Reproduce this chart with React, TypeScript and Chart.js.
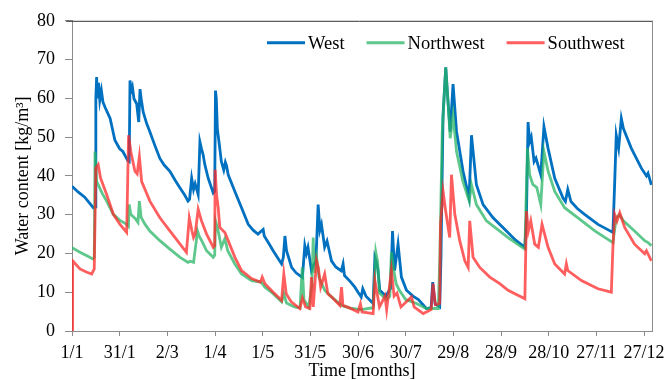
import React, { useEffect, useRef } from "react";
import { Chart, registerables } from "chart.js";

Chart.register(...registerables);

const xTickLabels = ["1/1", "31/1", "2/3", "1/4", "1/5", "31/5", "30/6", "30/7", "29/8", "28/9", "28/10", "27/11", "27/12"];
const tickStepDays = 30;

const westDays = [0, 4, 8, 13.4, 14.5, 15, 15.5, 16, 16.7, 17.5, 18.5, 19.5, 21, 24, 27, 30, 32, 35, 36, 36.5, 37.2, 38, 39, 40.7, 42, 42.8, 43.5, 44.8, 47, 49, 52, 55.3, 58, 61.6, 65, 68, 71, 73, 74, 75.3, 76.5, 77.5, 79.4, 80.5, 81.5, 82.5, 83.6, 85.7, 88.9, 89.8, 90.3, 90.8, 91.5, 93, 94, 95.5, 96.5, 97.3, 98.3, 102.5, 106.7, 110.9, 114, 117, 120.3, 121, 124, 126.6, 130, 131.9, 133, 134, 135, 138.2, 141, 143.4, 145, 146.5, 147.5, 148.5, 150.7, 152, 153.5, 154.9, 156, 157, 159, 160.5, 163.3, 166, 169.5, 170.6, 171.5, 175, 178, 180, 182, 183, 185, 189.5, 190.6, 191.5, 192.5, 193.7, 197.5, 200.5, 201.7, 203, 205.2, 207.3, 210.5, 214.6, 218, 223, 226, 227, 228.5, 231.4, 232.2, 233.5, 235.2, 236.5, 238, 239.8, 242, 246.1, 249.9, 251.4, 254.5, 258.7, 265, 273.4, 279, 285, 286, 287, 288, 289, 290.8, 292, 295, 297, 299.6, 303.8, 309, 310.5, 312, 314, 318, 322.6, 331, 336, 340.4, 341.5, 342.5, 344, 345.7, 347, 352, 358.3, 361.5, 362.5, 364.6];
const westValues = [37.3, 35.8, 34.5, 31.8, 32, 60, 65.5, 60, 64, 59.5, 62, 59, 57.5, 54.8, 49.2, 47, 46.3, 44, 43.7, 64.6, 62, 63, 59.9, 58.6, 53.9, 62.4, 60, 56.5, 53.5, 51.4, 48, 44.5, 42.8, 41.2, 38.8, 36.9, 35, 33.5, 34, 39.4, 36.5, 38, 35.2, 48.8, 47, 45.5, 42.9, 39.4, 35.6, 36, 62, 60, 52, 47.1, 43.7, 41.5, 43.5, 42.5, 40.3, 36, 31.8, 27.5, 26, 25, 26.2, 24.5, 22.5, 20.7, 18.5, 17.3, 19, 24.5, 20.7, 16.4, 15, 14.3, 13.8, 22, 20, 21.6, 15.6, 17, 18, 32.6, 26, 27.5, 21.6, 23.2, 18.1, 16.5, 15.5, 17.3, 14.3, 12.8, 11.3, 10, 8.8, 10.9, 9, 7.1, 19, 17.9, 16, 10.5, 9, 11, 25.8, 15.6, 22.4, 13.9, 10.5, 9, 8.1, 5.8, 6, 12.6, 7, 6.2, 19, 55.6, 68, 59.9, 51.4, 63.7, 51.4, 41.2, 34.3, 50.5, 37.7, 32.6, 29.2, 25.8, 23.5, 21.6, 30, 53.9, 48.8, 50, 43.7, 44.6, 40.3, 52.7, 47.1, 39.4, 34.3, 33.4, 36.5, 33.4, 31.6, 30.1, 27.5, 26.4, 25.4, 38, 50.5, 47.1, 54.8, 52.2, 47.1, 42, 40, 40.7, 37.7];

const northwestDays = [0, 5, 10, 13, 14, 14.5, 15.5, 17, 19, 21.8, 26, 30, 34.4, 35.5, 36, 37, 40, 41.5, 42.4, 43.5, 46, 49, 55.3, 61.6, 68, 73, 74.5, 76.5, 79, 80, 82, 84.7, 88.9, 89.8, 90.3, 91, 92, 94, 96.2, 98, 102.5, 106.7, 113, 119, 121.4, 126.6, 131.9, 133.3, 135, 140, 143.5, 144.9, 146, 149, 151, 151.8, 152.5, 153.9, 155.5, 159, 163.3, 169.6, 175, 182, 189.5, 191.2, 192.3, 193.5, 198, 200, 201, 202.5, 204, 206, 210, 216.8, 223, 230.5, 231.5, 233, 235.2, 236.5, 238, 239.8, 242, 246, 250, 251.4, 254.5, 260.8, 269, 274.4, 285, 286.6, 288, 290, 292.5, 295, 297, 299.6, 303.8, 310, 318.4, 329, 340.4, 342.5, 344.5, 347, 354, 360.4, 362.5, 364.6];
const northwestValues = [21.5, 20.3, 19.3, 18.6, 19, 46.3, 38.6, 37.3, 35.5, 33.5, 30.1, 28.6, 27.5, 27, 32.6, 30.1, 28.9, 28, 33.5, 29.3, 27.5, 25.8, 23.3, 21.1, 19, 17.7, 18, 17.7, 25.8, 24.5, 23, 20.7, 19, 19.5, 28.4, 27.5, 25.8, 21.6, 23.8, 20.7, 17.3, 14.7, 13, 12.6, 11.3, 9.6, 7.5, 9.6, 7.2, 6.2, 5.9, 16.4, 8, 6.2, 12, 24.1, 15, 19, 13.8, 10.5, 8.8, 6.6, 5.9, 5.5, 6, 20.3, 17.9, 9.8, 8.1, 9, 20.3, 15.6, 12.2, 10.5, 8.1, 7.1, 5.8, 5.8, 19, 51.4, 68, 59.9, 49.7, 55.6, 46.3, 38.6, 33.5, 37.7, 32.6, 28.4, 25.8, 24.1, 21.1, 47.1, 40.3, 37.8, 37, 32.6, 46.3, 41.2, 36, 31.8, 29.2, 25.8, 22.8, 29.2, 30, 28.4, 25.8, 23.3, 22.8, 22];

const southwestDays = [0, 0.4, 5, 9, 12.4, 14, 15, 16.5, 18, 21.8, 26, 30.2, 34.4, 35.6, 37, 39.6, 41, 42.4, 43.8, 49, 55.3, 61.6, 68, 72, 73.8, 75.5, 76.5, 77.5, 79.4, 81.5, 84.7, 88.9, 89.8, 90.1, 91, 92, 93, 96.2, 98.3, 102.5, 106.7, 113, 118.5, 119.7, 121.4, 126.6, 131.9, 133.3, 134.8, 138, 143.4, 145, 147, 149.7, 150.7, 151.8, 153.9, 155, 156.5, 159, 161, 163.3, 168.5, 169.6, 170.5, 175, 180, 181.5, 182.5, 189.5, 190.6, 192.3, 193.5, 197, 198, 201, 202.7, 204.5, 207, 213.6, 215.3, 221, 226, 227.2, 228.7, 231.4, 231.9, 233.5, 235, 236.7, 237.7, 238.8, 240.9, 244, 247.2, 249.3, 250.3, 252.4, 256.6, 262.9, 269.2, 274.4, 285, 286, 287.2, 288.7, 291.2, 293.5, 295.8, 299.6, 303.8, 310, 311.1, 312, 320.6, 331, 339.4, 340.4, 341.5, 343, 344.7, 347.8, 354, 360.4, 361.5, 364.6];
const southwestValues = [0, 18.1, 16, 15.2, 14.7, 16, 42, 42.9, 39.4, 35.2, 30.1, 27.5, 25.4, 50.5, 46.3, 41.2, 40.5, 45, 38.6, 33.5, 29.2, 25.8, 22.4, 20.3, 29.2, 25.8, 24.1, 25, 31.4, 28.4, 25, 21.6, 22, 41.6, 35, 31.8, 26.7, 25.4, 23.3, 19, 15.6, 13.5, 12.6, 13.9, 12.2, 10, 7.9, 14.7, 9.6, 7.5, 5.8, 8.5, 6.2, 5.8, 13.9, 6.2, 18.1, 16.4, 11.3, 14.7, 9.6, 8.8, 6.6, 11.3, 6.6, 5.9, 4.9, 7, 4.9, 4.5, 13, 9, 6.2, 9, 5.5, 15.6, 9, 9.8, 6.2, 8.8, 6.2, 4.5, 5.5, 12.2, 6.8, 7.1, 27.5, 36, 31.4, 26.7, 24.1, 40.3, 30.1, 23.3, 18.1, 16.4, 28.4, 19, 16.4, 13.9, 12.2, 10.5, 8.3, 30.9, 25.8, 28.4, 22.4, 21.6, 27.5, 21.6, 17.3, 14.7, 17.3, 15.6, 13, 10.9, 10, 21.6, 30.1, 28.4, 30.5, 26.7, 22.4, 19.9, 20.7, 18.1];

const seriesNames = ["West", "Northwest", "Southwest"];
const seriesColors = ["rgb(0,112,192)", "rgba(40,180,100,0.75)", "rgba(255,40,40,0.75)"];

const FONT = "'Liberation Serif', 'Times New Roman', serif";

const toPoints = (days: number[], vals: number[]) => days.map((d, i) => ({ x: d, y: vals[i] }));

const framePlugin = {
  id: "frame",
  afterDraw(chart: any) {
    const { ctx, chartArea: a } = chart;
    ctx.save();
    ctx.lineWidth = 1;
    ctx.strokeStyle = "#333333";
    ctx.beginPath();
    ctx.moveTo(a.left - 6, a.top + 0.5);
    ctx.lineTo(a.right + 1, a.top + 0.5);
    ctx.stroke();
    ctx.strokeStyle = "#8c8c8c";
    ctx.beginPath();
    ctx.moveTo(a.right + 0.5, a.top);
    ctx.lineTo(a.right + 0.5, a.bottom);
    ctx.stroke();

    // legend
    ctx.font = `18.5px ${FONT}`;
    ctx.textBaseline = "middle";
    ctx.textAlign = "left";
    let x = a.left + 195;
    const y = a.top + 22;
    seriesNames.forEach((name, i) => {
      ctx.strokeStyle = seriesColors[i];
      ctx.lineWidth = 3;
      ctx.beginPath();
      ctx.moveTo(x, y);
      ctx.lineTo(x + 38, y);
      ctx.stroke();
      ctx.fillStyle = "#000";
      ctx.fillText(name, x + 41, y + 1);
      x += 41 + ctx.measureText(name).width + 22;
    });
    ctx.restore();
  },
};

export default function App() {
  const ref = useRef<HTMLCanvasElement | null>(null);
  useEffect(() => {
    if (!ref.current) return;
    const chart = new Chart(ref.current, {
      type: "line",
      data: {
        datasets: [
          { label: seriesNames[0], data: toPoints(westDays, westValues), borderColor: seriesColors[0], order: 3 },
          { label: seriesNames[1], data: toPoints(northwestDays, northwestValues), borderColor: seriesColors[1], order: 2 },
          { label: seriesNames[2], data: toPoints(southwestDays, southwestValues), borderColor: seriesColors[2], order: 1 },
        ].map((d) => ({ ...d, borderWidth: 2.8, pointRadius: 0, tension: 0, fill: false })),
      },
      options: {
        responsive: false,
        animation: false,
        layout: { padding: { top: 18, right: 16, left: 0, bottom: 0 } },
        plugins: { legend: { display: false }, tooltip: { enabled: false } },
        scales: {
          x: {
            type: "linear",
            min: 0,
            max: 365,
            afterFit: (s: any) => {
              s.height = 49;
              s.paddingLeft = 0;
              s.paddingRight = 0;
            },
            afterBuildTicks: (s: any) => {
              s.ticks = xTickLabels.map((_, i) => ({ value: i * tickStepDays }));
            },
            ticks: {
              autoSkip: false,
              maxRotation: 0,
              minRotation: 0,
              padding: 6,
              color: "#000",
              font: { family: FONT, size: 18 },
              callback: (v: any) => xTickLabels[Math.round(Number(v) / tickStepDays)] ?? "",
            },
            grid: { drawOnChartArea: false, tickLength: 5, color: "#8c8c8c" },
            border: { color: "#8c8c8c", width: 1 },
            title: {
              display: true,
              text: "Time [months]",
              color: "#000",
              font: { family: FONT, size: 18, lineHeight: 1 },
              padding: 0,
            },
          },
          y: {
            min: 0,
            max: 80,
            afterFit: (s: any) => {
              s.width = 72;
            },
            ticks: {
              stepSize: 10,
              padding: 10,
              color: "#000",
              font: { family: FONT, size: 18 },
            },
            grid: { drawOnChartArea: false, tickLength: 7, color: "#8c8c8c" },
            border: { color: "#8c8c8c", width: 1 },
            title: {
              display: true,
              text: "Water content [kg/m³]",
              color: "#000",
              font: { family: FONT, size: 18, lineHeight: 1 },
              padding: { top: 14, bottom: 0 },
            },
          },
        },
      },
      plugins: [framePlugin],
    });
    return () => chart.destroy();
  }, []);
  return (
    <div style={{ position: "absolute", left: 0, top: 0, width: 668, height: 380 }}>
      <canvas ref={ref} width={668} height={380} />
    </div>
  );
}
